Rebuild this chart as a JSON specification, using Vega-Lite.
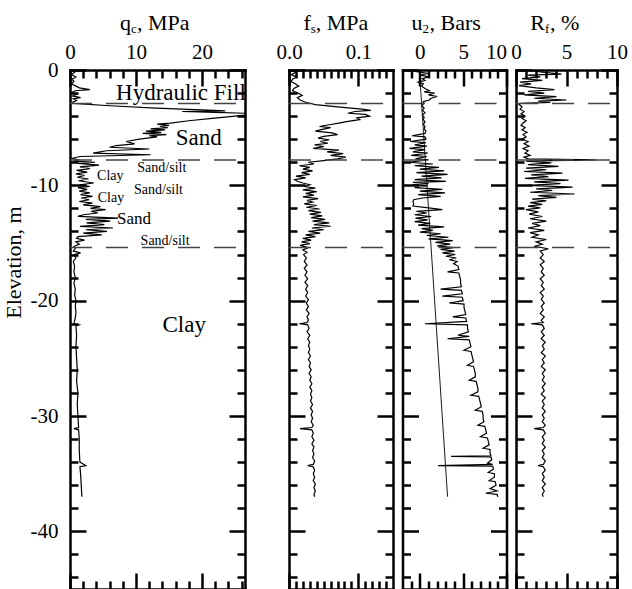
{
"$schema":"https://vega.github.io/schema/vega-lite/v6.json",
"padding":{"left":2,"top":11,"right":2,"bottom":0},
"bounds":"flush",
"spacing":44,
"datasets":{
"bounds":[{"e":-2.9},{"e":-7.8},{"e":-15.4}],
"qc":[{"e":0,"v":0.3},{"e":-0.2,"v":0.7},{"e":-0.4,"v":0.2},{"e":-0.6,"v":0.9},{"e":-0.8,"v":0.3},{"e":-1.0,"v":0.6},{"e":-1.2,"v":0.2},{"e":-1.4,"v":0.9},{"e":-1.55,"v":1.4},{"e":-1.7,"v":3.0},{"e":-1.8,"v":0.8},{"e":-1.95,"v":0.3},{"e":-2.1,"v":1.0},{"e":-2.25,"v":0.4},{"e":-2.4,"v":1.6},{"e":-2.5,"v":0.5},{"e":-2.65,"v":1.0},{"e":-2.8,"v":0.4},{"e":-2.9,"v":0.6},{"e":-3.1,"v":6.0},{"e":-3.3,"v":13.0},{"e":-3.45,"v":20.0},{"e":-3.55,"v":23.5},{"e":-3.6,"v":17.0},{"e":-3.68,"v":22.0},{"e":-3.75,"v":26.5},{"e":-3.85,"v":27.5},{"e":-4.0,"v":25.0},{"e":-4.2,"v":21.5},{"e":-4.4,"v":18.0},{"e":-4.6,"v":15.2},{"e":-4.7,"v":13.2},{"e":-4.8,"v":15.0},{"e":-4.9,"v":13.6},{"e":-5.0,"v":14.8},{"e":-5.1,"v":12.2},{"e":-5.2,"v":14.4},{"e":-5.3,"v":11.5},{"e":-5.4,"v":13.8},{"e":-5.5,"v":11.0},{"e":-5.6,"v":14.6},{"e":-5.7,"v":12.0},{"e":-5.8,"v":13.2},{"e":-6.0,"v":10.5},{"e":-6.2,"v":8.5},{"e":-6.4,"v":9.8},{"e":-6.55,"v":7.0},{"e":-6.7,"v":6.0},{"e":-6.85,"v":12.0},{"e":-7.0,"v":5.5},{"e":-7.2,"v":3.5},{"e":-7.35,"v":12.2},{"e":-7.5,"v":1.5},{"e":-7.65,"v":0.4},{"e":-7.8,"v":1.2},{"e":-7.9,"v":0.5},{"e":-8.0,"v":3.8},{"e":-8.1,"v":1.2},{"e":-8.25,"v":4.4},{"e":-8.4,"v":1.5},{"e":-8.55,"v":3.0},{"e":-8.7,"v":1.0},{"e":-8.85,"v":2.6},{"e":-9.0,"v":0.9},{"e":-9.15,"v":2.2},{"e":-9.3,"v":1.1},{"e":-9.45,"v":2.8},{"e":-9.6,"v":1.3},{"e":-9.8,"v":3.6},{"e":-9.95,"v":1.5},{"e":-10.1,"v":3.0},{"e":-10.2,"v":1.2},{"e":-10.35,"v":2.6},{"e":-10.5,"v":1.4},{"e":-10.65,"v":3.0},{"e":-10.8,"v":1.6},{"e":-10.95,"v":3.4},{"e":-11.1,"v":1.7},{"e":-11.25,"v":2.9},{"e":-11.4,"v":1.4},{"e":-11.55,"v":3.4},{"e":-11.7,"v":2.0},{"e":-11.85,"v":4.6},{"e":-12.0,"v":3.1},{"e":-12.1,"v":5.4},{"e":-12.25,"v":3.2},{"e":-12.4,"v":4.2},{"e":-12.55,"v":2.0},{"e":-12.7,"v":1.2},{"e":-12.85,"v":7.3},{"e":-12.95,"v":2.4},{"e":-13.1,"v":6.1},{"e":-13.25,"v":2.5},{"e":-13.4,"v":5.2},{"e":-13.55,"v":1.5},{"e":-13.7,"v":6.5},{"e":-13.85,"v":2.4},{"e":-14.0,"v":5.6},{"e":-14.15,"v":2.0},{"e":-14.3,"v":4.8},{"e":-14.45,"v":1.2},{"e":-14.6,"v":1.0},{"e":-14.75,"v":2.2},{"e":-14.9,"v":0.9},{"e":-15.1,"v":1.4},{"e":-15.3,"v":0.6},{"e":-15.5,"v":0.8},{"e":-15.7,"v":0.5},{"e":-15.85,"v":1.6},{"e":-16.0,"v":0.6},{"e":-16.3,"v":0.9},{"e":-16.6,"v":0.5},{"e":-17.0,"v":0.7},{"e":-17.5,"v":0.6},{"e":-18.0,"v":0.8},{"e":-18.5,"v":0.6},{"e":-19.0,"v":0.8},{"e":-19.5,"v":0.7},{"e":-20.0,"v":0.9},{"e":-20.5,"v":0.8},{"e":-21.0,"v":0.9},{"e":-21.5,"v":0.8},{"e":-22.0,"v":0.6},{"e":-22.1,"v":1.4},{"e":-22.2,"v":0.9},{"e":-23.0,"v":1.0},{"e":-24.0,"v":0.9},{"e":-25.0,"v":1.0},{"e":-26.0,"v":1.1},{"e":-27.0,"v":1.0},{"e":-28.0,"v":1.2},{"e":-29.0,"v":1.1},{"e":-30.0,"v":1.2},{"e":-31.0,"v":1.3},{"e":-31.1,"v":0.6},{"e":-31.2,"v":1.3},{"e":-32.0,"v":1.4},{"e":-33.0,"v":1.4},{"e":-34.0,"v":1.5},{"e":-34.3,"v":2.4},{"e":-34.4,"v":1.5},{"e":-35.0,"v":1.6},{"e":-36.0,"v":1.7},{"e":-37.0,"v":1.8}],
"fs":[{"e":0,"v":0.004},{"e":-0.2,"v":0.010},{"e":-0.4,"v":0.003},{"e":-0.6,"v":0.011},{"e":-0.8,"v":0.005},{"e":-1.0,"v":0.003},{"e":-1.2,"v":0.009},{"e":-1.4,"v":0.014},{"e":-1.6,"v":0.007},{"e":-1.8,"v":0.005},{"e":-2.0,"v":0.013},{"e":-2.2,"v":0.019},{"e":-2.4,"v":0.012},{"e":-2.6,"v":0.016},{"e":-2.8,"v":0.024},{"e":-3.0,"v":0.038},{"e":-3.2,"v":0.07},{"e":-3.4,"v":0.105},{"e":-3.5,"v":0.118},{"e":-3.6,"v":0.095},{"e":-3.75,"v":0.085},{"e":-3.85,"v":0.11},{"e":-4.0,"v":0.116},{"e":-4.15,"v":0.098},{"e":-4.3,"v":0.102},{"e":-4.45,"v":0.085},{"e":-4.6,"v":0.072},{"e":-4.75,"v":0.058},{"e":-4.9,"v":0.044},{"e":-5.0,"v":0.06},{"e":-5.15,"v":0.048},{"e":-5.3,"v":0.038},{"e":-5.45,"v":0.062},{"e":-5.6,"v":0.07},{"e":-5.75,"v":0.05},{"e":-5.9,"v":0.042},{"e":-6.05,"v":0.058},{"e":-6.2,"v":0.045},{"e":-6.35,"v":0.056},{"e":-6.5,"v":0.037},{"e":-6.65,"v":0.05},{"e":-6.8,"v":0.035},{"e":-6.95,"v":0.072},{"e":-7.1,"v":0.055},{"e":-7.25,"v":0.078},{"e":-7.4,"v":0.06},{"e":-7.55,"v":0.082},{"e":-7.7,"v":0.07},{"e":-7.85,"v":0.05},{"e":-8.0,"v":0.028},{"e":-8.15,"v":0.036},{"e":-8.3,"v":0.015},{"e":-8.45,"v":0.03},{"e":-8.6,"v":0.02},{"e":-8.75,"v":0.034},{"e":-8.9,"v":0.018},{"e":-9.05,"v":0.03},{"e":-9.2,"v":0.01},{"e":-9.35,"v":0.024},{"e":-9.5,"v":0.008},{"e":-9.65,"v":0.012},{"e":-9.8,"v":0.02},{"e":-9.95,"v":0.03},{"e":-10.1,"v":0.022},{"e":-10.25,"v":0.038},{"e":-10.4,"v":0.02},{"e":-10.55,"v":0.04},{"e":-10.7,"v":0.024},{"e":-10.85,"v":0.036},{"e":-11.0,"v":0.02},{"e":-11.15,"v":0.042},{"e":-11.3,"v":0.026},{"e":-11.45,"v":0.034},{"e":-11.6,"v":0.022},{"e":-11.75,"v":0.04},{"e":-11.9,"v":0.025},{"e":-12.05,"v":0.044},{"e":-12.2,"v":0.028},{"e":-12.35,"v":0.046},{"e":-12.5,"v":0.03},{"e":-12.65,"v":0.048},{"e":-12.8,"v":0.032},{"e":-12.95,"v":0.052},{"e":-13.1,"v":0.034},{"e":-13.25,"v":0.058},{"e":-13.4,"v":0.036},{"e":-13.55,"v":0.06},{"e":-13.7,"v":0.033},{"e":-13.85,"v":0.05},{"e":-14.0,"v":0.028},{"e":-14.15,"v":0.045},{"e":-14.3,"v":0.024},{"e":-14.45,"v":0.038},{"e":-14.6,"v":0.02},{"e":-14.75,"v":0.032},{"e":-14.9,"v":0.018},{"e":-15.05,"v":0.03},{"e":-15.2,"v":0.016},{"e":-15.4,"v":0.028},{"e":-15.6,"v":0.020},{"e":-15.8,"v":0.026},{"e":-16.0,"v":0.021},{"e":-16.3,"v":0.025},{"e":-16.6,"v":0.022},{"e":-16.9,"v":0.026},{"e":-17.2,"v":0.022},{"e":-17.5,"v":0.026},{"e":-17.8,"v":0.023},{"e":-18.1,"v":0.027},{"e":-18.4,"v":0.023},{"e":-18.7,"v":0.027},{"e":-19.0,"v":0.024},{"e":-19.3,"v":0.027},{"e":-19.6,"v":0.024},{"e":-19.9,"v":0.028},{"e":-20.2,"v":0.025},{"e":-20.5,"v":0.028},{"e":-20.8,"v":0.025},{"e":-21.1,"v":0.029},{"e":-21.4,"v":0.026},{"e":-21.7,"v":0.028},{"e":-21.9,"v":0.026},{"e":-22.0,"v":0.015},{"e":-22.1,"v":0.027},{"e":-22.4,"v":0.029},{"e":-22.7,"v":0.026},{"e":-23.0,"v":0.030},{"e":-23.3,"v":0.027},{"e":-23.6,"v":0.030},{"e":-23.9,"v":0.028},{"e":-24.2,"v":0.030},{"e":-24.5,"v":0.028},{"e":-24.8,"v":0.031},{"e":-25.1,"v":0.028},{"e":-25.4,"v":0.031},{"e":-25.7,"v":0.029},{"e":-26.0,"v":0.032},{"e":-26.3,"v":0.029},{"e":-26.6,"v":0.032},{"e":-26.9,"v":0.030},{"e":-27.2,"v":0.033},{"e":-27.5,"v":0.030},{"e":-27.8,"v":0.033},{"e":-28.1,"v":0.031},{"e":-28.4,"v":0.033},{"e":-28.7,"v":0.031},{"e":-29.0,"v":0.034},{"e":-29.3,"v":0.031},{"e":-29.6,"v":0.034},{"e":-29.9,"v":0.032},{"e":-30.2,"v":0.034},{"e":-30.5,"v":0.032},{"e":-30.8,"v":0.035},{"e":-31.0,"v":0.033},{"e":-31.1,"v":0.016},{"e":-31.2,"v":0.033},{"e":-31.5,"v":0.035},{"e":-31.8,"v":0.033},{"e":-32.1,"v":0.036},{"e":-32.4,"v":0.033},{"e":-32.7,"v":0.036},{"e":-33.0,"v":0.034},{"e":-33.3,"v":0.036},{"e":-33.6,"v":0.034},{"e":-33.9,"v":0.037},{"e":-34.2,"v":0.035},{"e":-34.3,"v":0.027},{"e":-34.4,"v":0.035},{"e":-34.7,"v":0.037},{"e":-35.0,"v":0.035},{"e":-35.3,"v":0.037},{"e":-35.6,"v":0.035},{"e":-35.9,"v":0.038},{"e":-36.2,"v":0.036},{"e":-36.5,"v":0.038},{"e":-36.8,"v":0.036},{"e":-37.0,"v":0.037}],
"u2":[{"e":0,"v":0.2},{"e":-0.15,"v":-0.3},{"e":-0.3,"v":0.9},{"e":-0.45,"v":0.1},{"e":-0.6,"v":1.0},{"e":-0.75,"v":0.3},{"e":-0.9,"v":0.6},{"e":-1.05,"v":-0.2},{"e":-1.2,"v":0.4},{"e":-1.4,"v":0.2},{"e":-1.6,"v":0.6},{"e":-1.8,"v":1.1},{"e":-1.9,"v":0.5},{"e":-2.0,"v":1.7},{"e":-2.15,"v":1.0},{"e":-2.3,"v":2.0},{"e":-2.45,"v":1.3},{"e":-2.6,"v":1.1},{"e":-2.75,"v":0.4},{"e":-2.9,"v":0.5},{"e":-3.1,"v":0.2},{"e":-3.3,"v":0.5},{"e":-3.5,"v":0.3},{"e":-3.7,"v":0.6},{"e":-3.9,"v":0.3},{"e":-4.1,"v":0.5},{"e":-4.3,"v":0.4},{"e":-4.5,"v":0.6},{"e":-4.7,"v":0.4},{"e":-4.9,"v":0.6},{"e":-5.1,"v":0.5},{"e":-5.3,"v":0.7},{"e":-5.5,"v":0.6},{"e":-5.7,"v":-0.9},{"e":-5.8,"v":0.6},{"e":-6.0,"v":0.7},{"e":-6.2,"v":-1.1},{"e":-6.3,"v":0.7},{"e":-6.5,"v":-0.6},{"e":-6.6,"v":0.8},{"e":-6.8,"v":-1.2},{"e":-6.9,"v":0.6},{"e":-7.1,"v":-0.8},{"e":-7.2,"v":0.9},{"e":-7.4,"v":-1.0},{"e":-7.5,"v":0.8},{"e":-7.7,"v":-0.5},{"e":-7.8,"v":1.0},{"e":-8.0,"v":-1.3},{"e":-8.15,"v":1.5},{"e":-8.3,"v":-0.6},{"e":-8.45,"v":2.2},{"e":-8.6,"v":0.0},{"e":-8.75,"v":2.8},{"e":-8.9,"v":-0.4},{"e":-9.05,"v":3.2},{"e":-9.2,"v":0.2},{"e":-9.35,"v":2.5},{"e":-9.5,"v":-0.6},{"e":-9.65,"v":3.0},{"e":-9.75,"v":-0.8},{"e":-9.85,"v":1.0},{"e":-9.95,"v":-0.9},{"e":-10.05,"v":0.9},{"e":-10.2,"v":-0.6},{"e":-10.35,"v":2.6},{"e":-10.5,"v":0.0},{"e":-10.65,"v":2.9},{"e":-10.8,"v":-0.2},{"e":-10.95,"v":2.4},{"e":-11.1,"v":0.3},{"e":-11.25,"v":-0.7},{"e":-11.4,"v":-0.8},{"e":-11.6,"v":-0.7},{"e":-11.8,"v":-0.8},{"e":-11.95,"v":1.0},{"e":-12.1,"v":2.6},{"e":-12.25,"v":-0.4},{"e":-12.4,"v":0.8},{"e":-12.55,"v":-0.6},{"e":-12.7,"v":1.3},{"e":-12.85,"v":-0.5},{"e":-13.0,"v":0.9},{"e":-13.15,"v":-0.6},{"e":-13.3,"v":1.2},{"e":-13.45,"v":-0.2},{"e":-13.6,"v":2.8},{"e":-13.75,"v":0.2},{"e":-13.9,"v":1.5},{"e":-14.05,"v":0.0},{"e":-14.2,"v":2.4},{"e":-14.35,"v":0.8},{"e":-14.5,"v":3.3},{"e":-14.65,"v":1.0},{"e":-14.8,"v":3.8},{"e":-14.95,"v":1.8},{"e":-15.1,"v":3.5},{"e":-15.25,"v":2.0},{"e":-15.4,"v":3.9},{"e":-15.55,"v":2.4},{"e":-15.7,"v":4.0},{"e":-15.85,"v":2.6},{"e":-16.0,"v":4.1},{"e":-16.15,"v":3.0},{"e":-16.3,"v":4.2},{"e":-16.45,"v":3.4},{"e":-16.6,"v":4.3},{"e":-16.8,"v":3.9},{"e":-17.0,"v":4.4},{"e":-17.3,"v":4.5},{"e":-17.5,"v":3.2},{"e":-17.6,"v":4.5},{"e":-17.9,"v":4.6},{"e":-18.2,"v":4.7},{"e":-18.5,"v":4.7},{"e":-18.8,"v":4.8},{"e":-19.0,"v":2.4},{"e":-19.1,"v":4.8},{"e":-19.4,"v":4.9},{"e":-19.6,"v":2.6},{"e":-19.7,"v":4.9},{"e":-20.0,"v":5.0},{"e":-20.2,"v":3.4},{"e":-20.3,"v":5.1},{"e":-20.6,"v":5.1},{"e":-20.9,"v":5.2},{"e":-21.2,"v":5.3},{"e":-21.4,"v":3.8},{"e":-21.5,"v":5.3},{"e":-21.8,"v":5.4},{"e":-22.0,"v":0.6},{"e":-22.1,"v":5.5},{"e":-22.4,"v":5.5},{"e":-22.7,"v":5.6},{"e":-23.0,"v":4.4},{"e":-23.1,"v":5.7},{"e":-23.3,"v":3.2},{"e":-23.4,"v":5.7},{"e":-23.7,"v":5.8},{"e":-24.0,"v":5.9},{"e":-24.3,"v":5.1},{"e":-24.4,"v":5.9},{"e":-24.7,"v":6.0},{"e":-25.0,"v":6.1},{"e":-25.3,"v":6.2},{"e":-25.6,"v":5.5},{"e":-25.7,"v":6.2},{"e":-26.0,"v":6.3},{"e":-26.3,"v":6.4},{"e":-26.6,"v":6.4},{"e":-26.9,"v":5.7},{"e":-27.0,"v":6.5},{"e":-27.3,"v":6.6},{"e":-27.6,"v":6.7},{"e":-27.9,"v":6.7},{"e":-28.2,"v":5.9},{"e":-28.3,"v":6.8},{"e":-28.6,"v":6.9},{"e":-28.9,"v":7.0},{"e":-29.2,"v":7.1},{"e":-29.5,"v":6.4},{"e":-29.6,"v":7.2},{"e":-29.9,"v":7.3},{"e":-30.2,"v":7.3},{"e":-30.5,"v":7.4},{"e":-30.8,"v":6.7},{"e":-30.9,"v":7.5},{"e":-31.2,"v":7.6},{"e":-31.5,"v":7.7},{"e":-31.8,"v":7.0},{"e":-31.9,"v":7.8},{"e":-32.2,"v":7.9},{"e":-32.5,"v":8.0},{"e":-32.8,"v":7.3},{"e":-32.9,"v":8.1},{"e":-33.2,"v":8.1},{"e":-33.45,"v":8.2},{"e":-33.5,"v":3.6},{"e":-33.55,"v":8.2},{"e":-33.8,"v":8.3},{"e":-34.1,"v":7.8},{"e":-34.2,"v":8.4},{"e":-34.3,"v":2.1},{"e":-34.35,"v":8.4},{"e":-34.6,"v":8.5},{"e":-34.9,"v":7.9},{"e":-35.0,"v":8.6},{"e":-35.3,"v":8.6},{"e":-35.6,"v":8.0},{"e":-35.7,"v":8.7},{"e":-36.0,"v":8.8},{"e":-36.3,"v":8.1},{"e":-36.5,"v":8.9},{"e":-36.7,"v":7.6},{"e":-36.8,"v":8.9},{"e":-37.0,"v":9.0}],
"hydro":[{"e":-0.6,"v":0},{"e":-37.0,"v":3.2}],
"rf":[{"e":0,"v":1.0},{"e":-0.2,"v":2.8},{"e":-0.35,"v":4.5},{"e":-0.45,"v":1.2},{"e":-0.6,"v":2.4},{"e":-0.75,"v":0.6},{"e":-0.9,"v":2.6},{"e":-1.05,"v":0.4},{"e":-1.2,"v":1.5},{"e":-1.35,"v":0.3},{"e":-1.55,"v":2.0},{"e":-1.7,"v":3.8},{"e":-1.85,"v":1.2},{"e":-2.0,"v":2.8},{"e":-2.15,"v":0.8},{"e":-2.3,"v":4.0},{"e":-2.45,"v":1.8},{"e":-2.6,"v":5.0},{"e":-2.7,"v":2.2},{"e":-2.8,"v":3.4},{"e":-2.9,"v":0.5},{"e":-3.0,"v":0.3},{"e":-3.2,"v":0.6},{"e":-3.4,"v":0.4},{"e":-3.6,"v":0.8},{"e":-3.8,"v":0.5},{"e":-4.0,"v":0.9},{"e":-4.2,"v":0.6},{"e":-4.4,"v":1.0},{"e":-4.6,"v":0.7},{"e":-4.8,"v":0.5},{"e":-5.0,"v":0.9},{"e":-5.2,"v":0.6},{"e":-5.4,"v":1.1},{"e":-5.6,"v":0.7},{"e":-5.8,"v":1.0},{"e":-6.0,"v":0.6},{"e":-6.2,"v":1.2},{"e":-6.4,"v":0.8},{"e":-6.6,"v":1.3},{"e":-6.8,"v":0.7},{"e":-7.0,"v":1.2},{"e":-7.2,"v":0.9},{"e":-7.4,"v":1.4},{"e":-7.55,"v":0.8},{"e":-7.7,"v":1.2},{"e":-7.8,"v":7.9},{"e":-7.9,"v":1.0},{"e":-8.05,"v":3.5},{"e":-8.2,"v":1.2},{"e":-8.35,"v":4.2},{"e":-8.5,"v":1.0},{"e":-8.65,"v":3.0},{"e":-8.8,"v":0.8},{"e":-8.95,"v":4.6},{"e":-9.1,"v":1.5},{"e":-9.25,"v":3.2},{"e":-9.4,"v":0.9},{"e":-9.55,"v":5.2},{"e":-9.7,"v":1.8},{"e":-9.85,"v":4.4},{"e":-10.0,"v":1.2},{"e":-10.15,"v":5.6},{"e":-10.3,"v":2.0},{"e":-10.45,"v":3.6},{"e":-10.6,"v":1.4},{"e":-10.75,"v":5.8},{"e":-10.9,"v":2.2},{"e":-11.05,"v":4.0},{"e":-11.2,"v":1.6},{"e":-11.35,"v":3.0},{"e":-11.5,"v":1.4},{"e":-11.65,"v":2.6},{"e":-11.8,"v":1.2},{"e":-11.95,"v":2.4},{"e":-12.1,"v":1.0},{"e":-12.3,"v":2.2},{"e":-12.5,"v":1.3},{"e":-12.7,"v":2.6},{"e":-12.9,"v":1.4},{"e":-13.1,"v":3.0},{"e":-13.3,"v":1.6},{"e":-13.5,"v":2.4},{"e":-13.7,"v":1.2},{"e":-13.9,"v":2.8},{"e":-14.1,"v":1.4},{"e":-14.3,"v":2.2},{"e":-14.5,"v":1.6},{"e":-14.7,"v":3.0},{"e":-14.9,"v":2.0},{"e":-15.1,"v":2.6},{"e":-15.3,"v":1.8},{"e":-15.5,"v":3.2},{"e":-15.7,"v":2.4},{"e":-16.0,"v":2.7},{"e":-16.3,"v":2.4},{"e":-16.6,"v":2.8},{"e":-16.9,"v":2.4},{"e":-17.2,"v":2.7},{"e":-17.5,"v":2.5},{"e":-17.8,"v":2.8},{"e":-18.1,"v":2.4},{"e":-18.4,"v":2.7},{"e":-18.7,"v":2.5},{"e":-19.0,"v":2.8},{"e":-19.3,"v":2.4},{"e":-19.6,"v":2.7},{"e":-19.9,"v":2.5},{"e":-20.2,"v":2.8},{"e":-20.5,"v":2.5},{"e":-20.8,"v":2.7},{"e":-21.1,"v":2.4},{"e":-21.4,"v":2.8},{"e":-21.7,"v":2.5},{"e":-21.9,"v":2.7},{"e":-22.0,"v":1.5},{"e":-22.1,"v":2.6},{"e":-22.4,"v":2.8},{"e":-22.7,"v":2.5},{"e":-23.0,"v":2.8},{"e":-23.3,"v":2.5},{"e":-23.6,"v":2.9},{"e":-23.9,"v":2.6},{"e":-24.2,"v":2.8},{"e":-24.5,"v":2.5},{"e":-24.8,"v":2.9},{"e":-25.1,"v":2.6},{"e":-25.4,"v":2.8},{"e":-25.7,"v":2.5},{"e":-26.0,"v":2.9},{"e":-26.3,"v":2.6},{"e":-26.6,"v":2.8},{"e":-26.9,"v":2.6},{"e":-27.2,"v":2.9},{"e":-27.5,"v":2.6},{"e":-27.8,"v":2.8},{"e":-28.1,"v":2.5},{"e":-28.4,"v":2.9},{"e":-28.7,"v":2.6},{"e":-29.0,"v":2.8},{"e":-29.3,"v":2.6},{"e":-29.6,"v":2.9},{"e":-29.9,"v":2.6},{"e":-30.2,"v":2.8},{"e":-30.5,"v":2.6},{"e":-30.8,"v":2.9},{"e":-31.0,"v":2.7},{"e":-31.1,"v":1.8},{"e":-31.2,"v":2.7},{"e":-31.5,"v":2.9},{"e":-31.8,"v":2.6},{"e":-32.1,"v":2.8},{"e":-32.4,"v":2.6},{"e":-32.7,"v":2.9},{"e":-33.0,"v":2.6},{"e":-33.3,"v":2.8},{"e":-33.6,"v":2.6},{"e":-33.9,"v":2.9},{"e":-34.2,"v":2.7},{"e":-34.3,"v":2.2},{"e":-34.4,"v":2.7},{"e":-34.7,"v":2.9},{"e":-35.0,"v":2.6},{"e":-35.3,"v":2.8},{"e":-35.6,"v":2.6},{"e":-35.9,"v":2.9},{"e":-36.2,"v":2.6},{"e":-36.5,"v":2.8},{"e":-36.8,"v":2.6},{"e":-37.0,"v":2.7}],
"soilBig":[{"t":"Hydraulic Fill","v":16.8,"e":-2.0},{"t":"Sand","v":19.5,"e":-5.9},{"t":"Clay","v":17.3,"e":-22.1}],
"soilMid":[{"t":"Sand","v":9.7,"e":-12.9}],
"soilSmall":[{"t":"Sand/silt","v":13.9,"e":-8.5},{"t":"Clay","v":6.1,"e":-9.2},{"t":"Sand/silt","v":13.4,"e":-10.4},{"t":"Clay","v":6.2,"e":-11.1},{"t":"Sand/silt","v":14.4,"e":-14.8}]
},
"hconcat":[
{
"width":175,"height":519,
"resolve":{"axis":{"x":"independent","y":"independent"}},
"layer":[
{"data":{"name":"qc"},"mark":{"type":"line","color":"black","strokeWidth":1.2,"clip":true},
"encoding":{
"x":{"field":"v","type":"quantitative","scale":{"domain":[0,26.5],"nice":false,"zero":false},"axis":{"orient":"top","values":[0,10,20],"tickSize":-16,"labelPadding":24,"title":null}},
"y":{"field":"e","type":"quantitative","scale":{"domain":[-45,0],"nice":false,"zero":false},"axis":{"orient":"left","values":[-40,-30,-20,-10,0],"labelExpr":"'' + datum.value","tickSize":-16,"labelPadding":28,"title":"Elevation, m","titleAngle":-90,"titleX":-57,"titleY":192,"titleAlign":"center","titleBaseline":"middle"}},
"order":{"field":"e","sort":"descending"}}},
{"data":{"name":"bounds"},"mark":{"type":"rule","color":"#444","strokeWidth":1.5,"strokeDash":[22,14]},
"encoding":{
"x":{"datum":0,"type":"quantitative","scale":{"domain":[0,26.5],"nice":false,"zero":false},"axis":{"orient":"bottom","values":[0,10,20],"tickSize":-16,"labels":false,"title":null}},
"x2":{"datum":26.5},
"y":{"field":"e","type":"quantitative","scale":{"domain":[-45,0],"nice":false,"zero":false},"axis":{"orient":"right","values":[-40,-30,-20,-10,0],"tickSize":-16,"labels":false,"title":null}}}},
{"data":{"values":[{"t":"q"}]},"mark":{"type":"text","align":"right","baseline":"middle","fontSize":22,"font":"Liberation Serif"},
"encoding":{
"x":{"datum":9.24,"type":"quantitative","scale":{"domain":[0,26.5],"nice":false,"zero":false},"axis":{"orient":"top","values":[2,4,6,8,12,14,16,18,22,24,26],"tickSize":-8,"labels":false,"domain":false,"title":null}},
"y":{"datum":4.1,"type":"quantitative","scale":{"domain":[-45,0],"nice":false,"zero":false},"axis":{"orient":"left","values":[-44,-42,-38,-36,-34,-32,-28,-26,-24,-22,-18,-16,-14,-12,-8,-6,-4,-2],"tickSize":-8,"labels":false,"domain":false,"title":null}},
"text":{"field":"t"}}},
{"data":{"values":[{"t":"c"}]},"mark":{"type":"text","align":"left","baseline":"middle","fontSize":13,"dy":6,"font":"Liberation Serif"},
"encoding":{
"x":{"datum":9.24,"type":"quantitative","scale":{"domain":[0,26.5],"nice":false,"zero":false},"axis":{"orient":"bottom","values":[2,4,6,8,12,14,16,18,22,24,26],"tickSize":-8,"labels":false,"domain":false,"title":null}},
"y":{"datum":4.1,"type":"quantitative","scale":{"domain":[-45,0],"nice":false,"zero":false},"axis":{"orient":"right","values":[-44,-42,-38,-36,-34,-32,-28,-26,-24,-22,-18,-16,-14,-12,-8,-6,-4,-2],"tickSize":-8,"labels":false,"domain":false,"title":null}},
"text":{"field":"t"}}},
{"data":{"values":[{"t":", MPa"}]},"mark":{"type":"text","align":"left","baseline":"middle","fontSize":22,"dx":6,"font":"Liberation Serif"},
"encoding":{
"x":{"datum":9.24,"type":"quantitative","scale":{"domain":[0,26.5],"nice":false,"zero":false},"axis":null},
"y":{"datum":4.1,"type":"quantitative","scale":{"domain":[-45,0],"nice":false,"zero":false},"axis":null},
"text":{"field":"t"}}},
{"data":{"name":"soilBig"},"mark":{"type":"text","align":"center","baseline":"middle","fontSize":23,"font":"Liberation Serif"},
"encoding":{
"x":{"field":"v","type":"quantitative","scale":{"domain":[0,26.5],"nice":false,"zero":false},"axis":null},
"y":{"field":"e","type":"quantitative","scale":{"domain":[-45,0],"nice":false,"zero":false},"axis":null},
"text":{"field":"t"}}},
{"data":{"name":"soilMid"},"mark":{"type":"text","align":"center","baseline":"middle","fontSize":17,"font":"Liberation Serif"},
"encoding":{
"x":{"field":"v","type":"quantitative","scale":{"domain":[0,26.5],"nice":false,"zero":false},"axis":null},
"y":{"field":"e","type":"quantitative","scale":{"domain":[-45,0],"nice":false,"zero":false},"axis":null},
"text":{"field":"t"}}},
{"data":{"name":"soilSmall"},"mark":{"type":"text","align":"center","baseline":"middle","fontSize":14,"font":"Liberation Serif"},
"encoding":{
"x":{"field":"v","type":"quantitative","scale":{"domain":[0,26.5],"nice":false,"zero":false},"axis":null},
"y":{"field":"e","type":"quantitative","scale":{"domain":[-45,0],"nice":false,"zero":false},"axis":null},
"text":{"field":"t"}}}
]
},
{
"bounds":"flush",
"spacing":9.5,
"hconcat":[
{
"width":104,"height":519,
"resolve":{"axis":{"x":"independent","y":"independent"}},
"layer":[
{"data":{"name":"fs"},"mark":{"type":"line","color":"black","strokeWidth":1.2,"clip":true},
"encoding":{
"x":{"field":"v","type":"quantitative","scale":{"domain":[0,0.15],"nice":false,"zero":false},"axis":{"orient":"top","values":[0,0.1],"format":".1f","tickSize":-16,"labelPadding":24,"title":null}},
"y":{"field":"e","type":"quantitative","scale":{"domain":[-45,0],"nice":false,"zero":false},"axis":{"orient":"left","values":[-40,-30,-20,-10,0],"tickSize":-16,"labels":false,"title":null}},
"order":{"field":"e","sort":"descending"}}},
{"data":{"name":"bounds"},"mark":{"type":"rule","color":"#444","strokeWidth":1.5,"strokeDash":[22,14]},
"encoding":{
"x":{"datum":0,"type":"quantitative","scale":{"domain":[0,0.15],"nice":false,"zero":false},"axis":{"orient":"bottom","values":[0,0.1],"tickSize":-16,"labels":false,"title":null}},
"x2":{"datum":0.15},
"y":{"field":"e","type":"quantitative","scale":{"domain":[-45,0],"nice":false,"zero":false},"axis":{"orient":"right","values":[-40,-30,-20,-10,0],"tickSize":-16,"labels":false,"title":null}}}},
{"data":{"values":[{"t":"f"}]},"mark":{"type":"text","align":"right","baseline":"middle","fontSize":22,"font":"Liberation Serif"},
"encoding":{
"x":{"datum":0.0314,"type":"quantitative","scale":{"domain":[0,0.15],"nice":false,"zero":false},"axis":{"orient":"top","values":[0.01,0.02,0.03,0.04,0.05,0.06,0.07,0.08,0.09,0.11,0.12,0.13,0.14],"tickSize":-8,"labels":false,"domain":false,"title":null}},
"y":{"datum":4.1,"type":"quantitative","scale":{"domain":[-45,0],"nice":false,"zero":false},"axis":{"orient":"left","values":[-44,-42,-38,-36,-34,-32,-28,-26,-24,-22,-18,-16,-14,-12,-8,-6,-4,-2],"tickSize":-8,"labels":false,"domain":false,"title":null}},
"text":{"field":"t"}}},
{"data":{"values":[{"t":"s"}]},"mark":{"type":"text","align":"left","baseline":"middle","fontSize":13,"dy":6,"font":"Liberation Serif"},
"encoding":{
"x":{"datum":0.0314,"type":"quantitative","scale":{"domain":[0,0.15],"nice":false,"zero":false},"axis":{"orient":"bottom","values":[0.01,0.02,0.03,0.04,0.05,0.06,0.07,0.08,0.09,0.11,0.12,0.13,0.14],"tickSize":-8,"labels":false,"domain":false,"title":null}},
"y":{"datum":4.1,"type":"quantitative","scale":{"domain":[-45,0],"nice":false,"zero":false},"axis":{"orient":"right","values":[-44,-42,-38,-36,-34,-32,-28,-26,-24,-22,-18,-16,-14,-12,-8,-6,-4,-2],"tickSize":-8,"labels":false,"domain":false,"title":null}},
"text":{"field":"t"}}},
{"data":{"values":[{"t":", MPa"}]},"mark":{"type":"text","align":"left","baseline":"middle","fontSize":22,"dx":5,"font":"Liberation Serif"},
"encoding":{
"x":{"datum":0.0314,"type":"quantitative","scale":{"domain":[0,0.15],"nice":false,"zero":false},"axis":null},
"y":{"datum":4.1,"type":"quantitative","scale":{"domain":[-45,0],"nice":false,"zero":false},"axis":null},
"text":{"field":"t"}}}
]
},
{
"width":104,"height":519,
"resolve":{"axis":{"x":"independent","y":"independent"}},
"layer":[
{"data":{"name":"u2"},"mark":{"type":"line","color":"black","strokeWidth":1.2,"clip":true},
"encoding":{
"x":{"field":"v","type":"quantitative","scale":{"domain":[-2,10],"nice":false,"zero":false},"axis":{"orient":"top","values":[0,5,10],"tickSize":-16,"labelPadding":24,"labelFlush":true,"title":null}},
"y":{"field":"e","type":"quantitative","scale":{"domain":[-45,0],"nice":false,"zero":false},"axis":{"orient":"left","values":[-40,-30,-20,-10,0],"tickSize":-16,"labels":false,"title":null}},
"order":{"field":"e","sort":"descending"}}},
{"data":{"name":"bounds"},"mark":{"type":"rule","color":"#444","strokeWidth":1.5,"strokeDash":[22,14]},
"encoding":{
"x":{"datum":-2,"type":"quantitative","scale":{"domain":[-2,10],"nice":false,"zero":false},"axis":{"orient":"bottom","values":[0,5,10],"tickSize":-16,"labels":false,"title":null}},
"x2":{"datum":10},
"y":{"field":"e","type":"quantitative","scale":{"domain":[-45,0],"nice":false,"zero":false},"axis":{"orient":"right","values":[-40,-30,-20,-10,0],"tickSize":-16,"labels":false,"title":null}}}},
{"data":{"values":[{"t":"u"}]},"mark":{"type":"text","align":"right","baseline":"middle","fontSize":22,"font":"Liberation Serif"},
"encoding":{
"x":{"datum":0.31,"type":"quantitative","scale":{"domain":[-2,10],"nice":false,"zero":false},"axis":{"orient":"top","values":[-1,1,2,3,4,6,7,8,9],"tickSize":-8,"labels":false,"domain":false,"title":null}},
"y":{"datum":4.1,"type":"quantitative","scale":{"domain":[-45,0],"nice":false,"zero":false},"axis":{"orient":"left","values":[-44,-42,-38,-36,-34,-32,-28,-26,-24,-22,-18,-16,-14,-12,-8,-6,-4,-2],"tickSize":-8,"labels":false,"domain":false,"title":null}},
"text":{"field":"t"}}},
{"data":{"values":[{"t":"2"}]},"mark":{"type":"text","align":"left","baseline":"middle","fontSize":13,"dy":6,"font":"Liberation Serif"},
"encoding":{
"x":{"datum":0.31,"type":"quantitative","scale":{"domain":[-2,10],"nice":false,"zero":false},"axis":{"orient":"bottom","values":[-1,1,2,3,4,6,7,8,9],"tickSize":-8,"labels":false,"domain":false,"title":null}},
"y":{"datum":4.1,"type":"quantitative","scale":{"domain":[-45,0],"nice":false,"zero":false},"axis":{"orient":"right","values":[-44,-42,-38,-36,-34,-32,-28,-26,-24,-22,-18,-16,-14,-12,-8,-6,-4,-2],"tickSize":-8,"labels":false,"domain":false,"title":null}},
"text":{"field":"t"}}},
{"data":{"values":[{"t":", Bars"}]},"mark":{"type":"text","align":"left","baseline":"middle","fontSize":22,"dx":7,"font":"Liberation Serif"},
"encoding":{
"x":{"datum":0.31,"type":"quantitative","scale":{"domain":[-2,10],"nice":false,"zero":false},"axis":null},
"y":{"datum":4.1,"type":"quantitative","scale":{"domain":[-45,0],"nice":false,"zero":false},"axis":null},
"text":{"field":"t"}}},
{"data":{"name":"hydro"},"mark":{"type":"line","color":"black","strokeWidth":0.9},
"encoding":{
"x":{"field":"v","type":"quantitative","scale":{"domain":[-2,10],"nice":false,"zero":false},"axis":null},
"y":{"field":"e","type":"quantitative","scale":{"domain":[-45,0],"nice":false,"zero":false},"axis":null},
"order":{"field":"e","sort":"descending"}}}
]
},
{
"width":101,"height":519,
"resolve":{"axis":{"x":"independent","y":"independent"}},
"layer":[
{"data":{"name":"rf"},"mark":{"type":"line","color":"black","strokeWidth":1.2,"clip":true},
"encoding":{
"x":{"field":"v","type":"quantitative","scale":{"domain":[0,10],"nice":false,"zero":false},"axis":{"orient":"top","values":[0,5,10],"tickSize":-16,"labelPadding":24,"title":null}},
"y":{"field":"e","type":"quantitative","scale":{"domain":[-45,0],"nice":false,"zero":false},"axis":{"orient":"left","values":[-40,-30,-20,-10,0],"tickSize":-16,"labels":false,"title":null}},
"order":{"field":"e","sort":"descending"}}},
{"data":{"name":"bounds"},"mark":{"type":"rule","color":"#444","strokeWidth":1.5,"strokeDash":[22,14]},
"encoding":{
"x":{"datum":0,"type":"quantitative","scale":{"domain":[0,10],"nice":false,"zero":false},"axis":{"orient":"bottom","values":[0,5,10],"tickSize":-16,"labels":false,"title":null}},
"x2":{"datum":10},
"y":{"field":"e","type":"quantitative","scale":{"domain":[-45,0],"nice":false,"zero":false},"axis":{"orient":"right","values":[-40,-30,-20,-10,0],"tickSize":-16,"labels":false,"title":null}}}},
{"data":{"values":[{"t":"R"}]},"mark":{"type":"text","align":"right","baseline":"middle","fontSize":22,"font":"Liberation Serif"},
"encoding":{
"x":{"datum":2.87,"type":"quantitative","scale":{"domain":[0,10],"nice":false,"zero":false},"axis":{"orient":"top","values":[1,2,3,4,6,7,8,9],"tickSize":-8,"labels":false,"domain":false,"title":null}},
"y":{"datum":4.1,"type":"quantitative","scale":{"domain":[-45,0],"nice":false,"zero":false},"axis":{"orient":"left","values":[-44,-42,-38,-36,-34,-32,-28,-26,-24,-22,-18,-16,-14,-12,-8,-6,-4,-2],"tickSize":-8,"labels":false,"domain":false,"title":null}},
"text":{"field":"t"}}},
{"data":{"values":[{"t":"f"}]},"mark":{"type":"text","align":"left","baseline":"middle","fontSize":13,"dy":6,"font":"Liberation Serif"},
"encoding":{
"x":{"datum":2.87,"type":"quantitative","scale":{"domain":[0,10],"nice":false,"zero":false},"axis":{"orient":"bottom","values":[1,2,3,4,6,7,8,9],"tickSize":-8,"labels":false,"domain":false,"title":null}},
"y":{"datum":4.1,"type":"quantitative","scale":{"domain":[-45,0],"nice":false,"zero":false},"axis":{"orient":"right","values":[-44,-42,-38,-36,-34,-32,-28,-26,-24,-22,-18,-16,-14,-12,-8,-6,-4,-2],"tickSize":-8,"labels":false,"domain":false,"title":null}},
"text":{"field":"t"}}},
{"data":{"values":[{"t":", %"}]},"mark":{"type":"text","align":"left","baseline":"middle","fontSize":22,"dx":5,"font":"Liberation Serif"},
"encoding":{
"x":{"datum":2.87,"type":"quantitative","scale":{"domain":[0,10],"nice":false,"zero":false},"axis":null},
"y":{"datum":4.1,"type":"quantitative","scale":{"domain":[-45,0],"nice":false,"zero":false},"axis":null},
"text":{"field":"t"}}}
]
}
]
}
],
"config":{
"view":{"stroke":null},
"axis":{"grid":false,"domainColor":"black","tickColor":"black","domainWidth":2.5,"tickWidth":2.5,"domainCap":"square","labelFont":"Liberation Serif","labelFontSize":21,"labelColor":"black","labelFlush":false,"labelOverlap":false,"titleFont":"Liberation Serif","titleFontSize":22,"titleFontWeight":"normal","titleColor":"black"},
"text":{"font":"Liberation Serif","color":"black"}
}
}
